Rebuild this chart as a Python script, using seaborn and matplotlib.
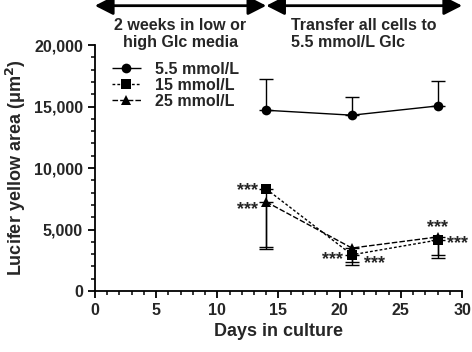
import pandas as pd
import numpy as np
import seaborn as sns
import matplotlib.pyplot as plt
from matplotlib.ticker import MultipleLocator, FuncFormatter

days = [14, 21, 28]
glc_55 = [14700, 14300, 15050]
glc_15 = [8300, 2950, 4150]
glc_25 = [7250, 3500, 4400]
err_55 = [2550, 1500, 2050]
err_15 = [4700, 600, 1250]
err_25 = [3850, 1400, 1700]
labels = ["5.5 mmol/L", "15 mmol/L", "25 mmol/L"]

sns.set_style("ticks")
plt.rcParams["font.family"] = ["Liberation Sans", "DejaVu Sans"]
plt.rcParams["font.weight"] = "bold"

df = pd.DataFrame({
    "day": days * 3,
    "area": glc_55 + glc_15 + glc_25,
    "group": [labels[0]] * 3 + [labels[1]] * 3 + [labels[2]] * 3,
})

fig = plt.figure(figsize=(4.72, 3.52), dpi=100)
ax = fig.add_axes([0.201, 0.173, 0.778, 0.699])

sns.lineplot(data=df, x="day", y="area", hue="group", style="group",
             palette=["black"] * 3, markers=["o", "s", "^"],
             dashes=[(1, 0), (2, 1.5), (4, 1.5)], markersize=7,
             markeredgewidth=0, linewidth=1, ax=ax, legend=True)

# error bars: upward for 5.5, downward for high glucose
ax.errorbar(days, glc_55, yerr=[np.zeros(3), err_55], fmt="none", ecolor="black",
            elinewidth=1, capsize=5, capthick=1)
ax.errorbar(days, glc_15, yerr=[err_15, np.zeros(3)], fmt="none", ecolor="black",
            elinewidth=1, capsize=5, capthick=1)
ax.errorbar(days, glc_25, yerr=[err_25, np.zeros(3)], fmt="none", ecolor="black",
            elinewidth=1, capsize=5, capthick=1)

ax.set_xlim(0, 30)
ax.set_ylim(0, 20000)
ax.xaxis.set_major_locator(MultipleLocator(5))
ax.xaxis.set_minor_locator(MultipleLocator(1))
ax.yaxis.set_major_locator(MultipleLocator(5000))
ax.yaxis.set_minor_locator(MultipleLocator(1000))
ax.yaxis.set_major_formatter(FuncFormatter(lambda v, p: f"{int(v):,}"))
ax.tick_params(which="major", length=5, width=1.3, labelsize=11.5, color="black")
ax.tick_params(which="minor", length=3, width=1.1, color="black")
for lab in ax.get_xticklabels() + ax.get_yticklabels():
    lab.set_fontweight("bold")
for s in ["left", "bottom"]:
    ax.spines[s].set_linewidth(1.3)
    ax.spines[s].set_color("black")
sns.despine(ax=ax)

ax.set_xlabel("Days in culture", fontsize=13, fontweight="bold")
ax.set_ylabel("Lucifer yellow area (\u03bcm$^\\mathbf{2}$)", fontsize=13, fontweight="bold")

leg = ax.legend(loc="upper left", bbox_to_anchor=(0.02, 0.97), frameon=False,
                fontsize=11.5, handlelength=1.8, handletextpad=0.9,
                labelspacing=0.05, borderaxespad=0.2)
for t in leg.get_texts():
    t.set_fontweight("bold")

stars = dict(fontsize=13, fontweight="bold", va="center")
ax.text(13.3, 8150, "***", ha="right", **stars)
ax.text(13.3, 6650, "***", ha="right", **stars)
ax.text(20.3, 2600, "***", ha="right", **stars)
ax.text(22.0, 2200, "***", ha="left", **stars)
ax.text(28.0, 5200, "***", ha="center", **stars)
ax.text(28.8, 3900, "***", ha="left", **stars)

# arrows above the plot
ytop = 1.16
arrow = dict(arrowstyle="<|-|>,head_length=0.55,head_width=0.28", color="black",
             lw=2, mutation_scale=20, shrinkA=0, shrinkB=0)
ax.annotate("", xy=(0, ytop), xytext=(14, ytop), xycoords=("data", "axes fraction"),
            arrowprops=arrow)
ax.annotate("", xy=(14, ytop), xytext=(30, ytop), xycoords=("data", "axes fraction"),
            arrowprops=arrow)
ax.text(7, 1.045, "2 weeks in low or\nhigh Glc media", ha="center", va="center",
        transform=ax.get_xaxis_transform(), fontsize=11.5, fontweight="bold",
        linespacing=1.1, clip_on=False)
ax.text(22, 1.045, "Transfer all cells to\n5.5 mmol/L Glc", ha="center", va="center",
        transform=ax.get_xaxis_transform(), fontsize=11.5, fontweight="bold",
        linespacing=1.1, clip_on=False, multialignment="left")

fig.savefig("out.png", dpi=100)
